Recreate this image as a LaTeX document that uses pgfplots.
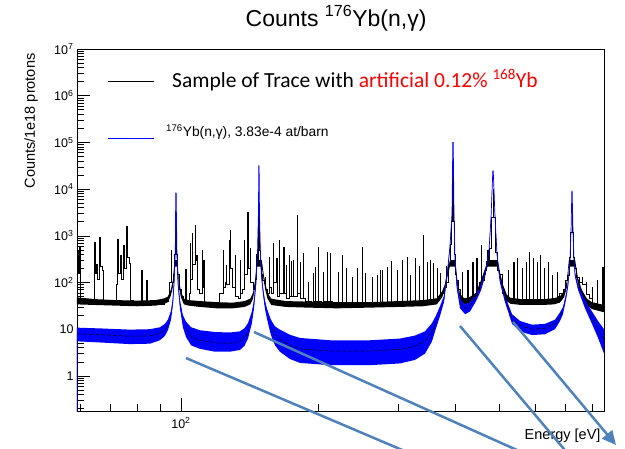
\documentclass[border=0pt]{standalone}
\usepackage{fontspec}
\setmainfont{Liberation Sans}
\newfontfamily\calibri{Carlito}
\usepackage{pgfplots}
\pgfplotsset{compat=1.18}
\usepackage{pgfplotstable}
\usepgfplotslibrary{fillbetween}
\usetikzlibrary{arrows.meta}
\definecolor{annot}{RGB}{79,129,189}

% 176Yb(n,gamma): centre, upper, lower of band, flat-part centre
\pgfplotstableread{
E c u l d
59.1 0.05 0.05 0.05 nan
59.1 8.0 10.8 5.5 8.0
66.4 7.6 10.4 5.2 7.6
77.2 7.1 9.8 4.8 7.1
85.5 7.2 10.0 4.9 7.2
89.9 8.2 11.0 5.8 8.2
92.2 9.8 13.0 7.2 9.8
93.6 12.5 16.0 9.5 12.5
95.1 20 25 16 nan
96.0 40 47 34 nan
96.7 120 135 105 nan
97.2 600 650 550 nan
97.4 8300 8300 8300 nan
97.6 8300 8300 8300 nan
98.0 400 440 360 nan
98.5 100 115 88 nan
99.5 35 42 28 nan
101.0 15 20 11 nan
102.6 10 14.5 6.8 10
105.3 7.0 11.0 4.5 7.0
110.1 5.8 9.5 3.8 5.8
118.8 5.1 8.7 3.3 5.1
128.1 5.0 8.5 3.3 5.0
134.8 5.4 9.0 3.6 5.4
137.9 6.5 10.5 4.4 6.5
140.4 9 13.5 6.3 9
143.2 18 24 13.5 nan
144.7 35 42 28 nan
146.2 100 112 88 nan
147.3 400 430 370 nan
148.0 3000 3000 3000 nan
148.3 31600 31600 31600 nan
148.5 31600 31600 31600 nan
148.8 3000 3000 3000 nan
149.5 400 430 370 nan
150.2 150 165 135 nan
151.4 70 80 60 nan
152.9 35 42 28 nan
154.5 22 28 17 nan
156.9 13 18 9 nan
158.5 10 14.5 6.5 10
161.0 7.5 11.5 4.5 7.5
165.0 6.0 9.8 3.3 6.0
173.6 4.5 7.6 2.3 4.5
182.6 3.8 6.5 1.9 3.8
212.5 3.4 5.8 1.7 3.4
260.3 3.4 5.8 1.7 3.4
302.9 3.7 6.3 1.85 3.7
326.8 4.3 7.3 2.2 4.3
343.8 5.6 9.0 3.0 5.6
356.2 9 13.5 5.5 9
363.0 14 19 10 14
370.9 25 31 19 nan
378.5 45 52 38 nan
382.4 100 110 90 nan
386.3 220 240 200 nan
390.2 600 640 560 nan
394.2 3000 3000 3000 nan
395.8 100000 100000 100000 nan
396.6 100000 100000 100000 nan
398.2 3000 3000 3000 nan
400.2 300 330 270 nan
404.3 80 90 70 nan
410.5 37 44 28 37
421.1 28 34 21 28
431.8 32 38 24 32
445.2 50 58 40 50
456.5 80 90 68 80
465.9 150 165 135 nan
470.6 250 270 230 nan
475.4 500 530 470 nan
480.2 2500 2500 2500 nan
484.6 24500 24500 24500 nan
485.6 24500 24500 24500 nan
490.0 2500 2500 2500 nan
495.0 400 430 370 nan
497.5 250 270 230 nan
502.6 110 122 98 nan
515.3 45 52 38 45
534.1 17 21 13 17
556.2 12 15 9 12
590.8 10 12.5 7.5 10
631.0 10.5 13 7.8 10.5
663.7 13 16 10 13
680.8 19 23 15 19
691.2 26 30 21 26
701.8 50 56 44 nan
708.8 90 98 82 nan
716.1 300 320 280 nan
719.8 1200 1200 1200 nan
722.9 9100 9100 9100 nan
723.9 9100 9100 9100 nan
727.1 1200 1200 1200 nan
730.8 300 320 280 nan
734.5 150 165 135 nan
745.7 80 88 70 nan
772.6 35 42 28 35
800.4 18 24 13 18
825.2 10 15 6.5 10
850.6 6 10 3 6
}\bluetab

% sample of trace: baseline band
\pgfplotstableread{
E u l
59.1 48 34
65 44 33
72 42 32
80 41 31
88 42 32
92 46 35
93.6 50 38
95 70 52
96 110 80
96.8 300 220
98.2 300 220
99 110 80
100 65 48
101.5 45 34
104 42 32
110 40 30
120 38 28
130 37 28
138 40 30
142 45 34
144 60 45
145.5 110 80
146.8 300 220
150.5 300 220
152 150 110
153.5 90 65
155 60 45
158 45 33
170 40 30
190 39 29
220 38 28
260 38 29
300 40 30
340 42 31
365 46 34
375 65 48
380 90 68
385 180 130
390 300 220
401 300 220
404 130 95
410 60 45
415 50 37
420 46 34
430 48 36
445 60 45
456 110 80
466 200 150
472 300 220
497 300 220
502 170 125
510 90 65
520 55 40
530 47 35
560 44 33
620 44 33
660 46 34
680 50 37
695 65 48
705 110 80
712 300 220
735 300 220
745 130 95
760 70 50
780 45 33
800 38 27
850.6 33 23
}\blackband

% sample of trace: histogram
\pgfplotstableread{
E v
59.1 45
59.2 500
59.45 160
59.8 600
60.1 45
61.0 38
62.0 42
63.0 36
63.7 40
64.4 70
64.65 740
64.95 160
65.3 240
65.6 120
66.2 940
66.5 220
67.3 185
67.6 40
69.0 36
70.5 38
71.6 36
72.2 90
72.6 850
72.9 160
73.6 390
73.9 120
74.8 630
75.1 200
75.9 1600
76.3 350
77.0 260
77.35 42
78.4 36
80.0 35
81.8 185
82.15 38
83.9 110
84.25 36
86.0 34
88.0 37
90.0 35
92.0 40
93.6 48
94.5 100
95.0 500
95.4 100
96.3 150
96.9 400
97.3 2000
97.8 400
98.3 150
99.3 70
100.2 50
101.3 40
102.4 190
102.8 42
104.2 60
104.7 700
105.1 120
105.7 1150
106.1 250
107.3 1700
107.7 300
108.0 390
108.5 70
110.0 60
111.2 500
111.6 80
112.1 300
112.5 38
114.0 32
117.0 30
120.6 31
121.5 60
123.7 500
124.2 80
125.0 100
125.6 235
126.1 90
127.5 800
128.1 1330
128.6 200
129.5 80
131.4 390
131.9 50
133.5 45
134.8 300
135.3 60
136.5 70
137.5 800
138.0 150
139.7 3200
140.3 200
141.8 550
142.4 100
144.0 70
145.5 120
146.2 400
146.8 300
147.6 1000
148.2 3000
148.7 500
149.4 250
150.2 150
151.3 110
152.9 131
153.5 70
154.5 60
156.0 350
156.6 80
158.0 60
159.3 700
159.9 100
162.4 335
163.0 50
164.2 813
164.8 60
167.6 575
168.3 60
170.0 235
170.7 45
172.6 390
173.2 50
174.5 288
175.2 50
176.2 300
176.9 50
179.8 2790
180.5 60
182.5 275
183.2 45
185.3 430
186.0 45
188.0 40
190.1 100
190.8 40
193.0 38
195.0 160
195.8 40
197.0 215
197.8 40
200.0 575
200.8 40
203.0 38
205.0 168
205.8 40
209.4 450
210.2 40
212.5 429
213.3 40
215.5 38
218.0 35
221.2 168
222.1 36
225.9 388
226.8 38
230.4 200
231.3 36
235.0 33
237.6 131
238.5 33
243.6 204
244.6 33
249.9 575
250.9 34
253.8 160
254.8 33
262.9 131
263.9 33
269.5 145
270.5 33
273.8 185
274.9 33
276.4 185
277.5 34
283.6 215
284.7 35
289.4 288
290.5 35
298.3 185
299.5 35
306.0 303
307.2 36
313.8 352
315.0 36
318.7 145
319.9 36
326.7 335
328.0 37
333.4 226
334.7 38
340.3 1040
341.6 40
347.2 275
348.6 40
352.6 303
354.0 40
358.0 262
359.4 42
365.2 204
366.6 50
370.9 160
372.4 55
376.0 60
380.0 80
382.3 226
383.8 100
386.0 250
390.0 650
393.0 2000
395.5 20000
397.0 2000
399.0 400
401.0 150
403.0 110
406.0 70
410.4 48
414.6 168
416.2 45
421.0 42
425.3 185
427.0 45
431.7 48
436.2 275
437.9 50
443.0 60
445.1 335
446.9 70
452.0 100
456.4 635
458.2 110
463.0 150
466.0 180
470.0 280
472.0 500
473.9 300
475.0 550
480.0 2500
484.8 10000
486.0 2500
490.0 450
495.0 180
500.0 150
507.6 113
509.6 60
515.0 45
523.2 185
525.3 45
530.0 40
536.7 275
538.9 40
547.6 335
549.8 40
555.0 38
561.6 204
563.8 38
573.0 275
575.3 38
581.8 450
584.1 38
593.7 335
596.1 38
605.8 275
608.2 38
615.1 388
617.6 40
627.7 204
630.2 40
640.5 275
643.1 42
653.7 145
656.3 45
670.4 168
673.1 50
680.0 60
691.0 70
700.0 110
708.0 140
713.0 350
718.0 1200
722.8 5000
724.5 1200
728.0 350
733.0 200
740.0 130
750.0 100
761.0 131
764.0 90
776.4 103
779.5 55
790.0 45
800.3 80
803.5 35
820.9 113
824.2 30
835.0 28
842.0 215
845.4 28
850.6 28
}\blacktab

\begin{document}
\begin{tikzpicture}
\begin{axis}[
  scale only axis, width=527pt, height=362pt,
  xmode=log, ymode=log,
  xmin=59.1, xmax=850.6, ymin=0.177, ymax=1e7,
  axis line style={line width=0.7pt},
  tick align=inside, tick pos=left,
  major tick length=13pt, minor tick length=7pt,
  every tick/.style={black, line width=0.6pt},
  xtick={100}, xticklabels={10\textsuperscript{2}},
  minor xtick={60,70,80,90,200,300,400,500,600,700,800},
  ytick={1,10,100,1000,10000,100000,1000000,10000000},
  yticklabels={1,10,10\textsuperscript{2},10\textsuperscript{3},10\textsuperscript{4},10\textsuperscript{5},10\textsuperscript{6},10\textsuperscript{7}},
  minor ytick={0.2,0.3,0.4,0.5,0.6,0.7,0.8,0.9,2,3,4,5,6,7,8,9,20,30,40,50,60,70,80,90,200,300,400,500,600,700,800,900,2000,3000,4000,5000,6000,7000,8000,9000,2e4,3e4,4e4,5e4,6e4,7e4,8e4,9e4,2e5,3e5,4e5,5e5,6e5,7e5,8e5,9e5,2e6,3e6,4e6,5e6,6e6,7e6,8e6,9e6},
  ticklabel style={font=\fontsize{12.5}{14}\selectfont},
  xticklabel style={yshift=-3pt},
  xlabel={Energy [eV]}, ylabel={Counts/1e18 protons},
  label style={font=\fontsize{14.5}{16}\selectfont},
  xlabel style={at={(rel axis cs:1,-0.080)}, anchor=base east},
  ylabel style={at={(rel axis cs:-0.0797,0.997)}, anchor=base east},
  title={Counts \textsuperscript{176}Yb(n,γ)},
  title style={at={(rel axis cs:0.4915,1.047)}, anchor=base, font=\fontsize{23}{26}\selectfont},
]
\addplot[draw=none, name path=KU, forget plot] table[x=E,y=u]{\blackband};
\addplot[draw=none, name path=KL, forget plot] table[x=E,y=l]{\blackband};
\addplot[black, forget plot] fill between[of=KU and KL];
\addplot[black, line width=0.6pt, const plot mark left, forget plot] table[x=E,y=v]{\blacktab};

\addplot[draw=none, name path=BU, forget plot] table[x=E,y=u]{\bluetab};
\addplot[draw=none, name path=BL, forget plot] table[x=E,y=l]{\bluetab};
\addplot[blue, forget plot] fill between[of=BU and BL];
\addplot[blue, line width=0.7pt, forget plot] table[x=E,y=c]{\bluetab};
\addplot[black, line width=0.5pt, dash pattern=on 4pt off 2pt, unbounded coords=jump, forget plot] table[x=E,y=d]{\bluetab};

\coordinate (l1) at (rel axis cs:0.0594,0.9116);
\coordinate (l2) at (rel axis cs:0.0594,0.7522);
\coordinate (t1) at (rel axis cs:0.1803,0.8950);
\coordinate (t2) at (rel axis cs:0.1689,0.7577);
\coordinate (a1s) at (rel axis cs:0.2068,0.1464);
\coordinate (a1e) at (rel axis cs:0.6395,-0.1215);
\coordinate (a2s) at (rel axis cs:0.3359,0.2182);
\coordinate (a2e) at (rel axis cs:0.8558,-0.1215);
\coordinate (a3s) at (rel axis cs:0.7268,0.2348);
\coordinate (a3e) at (rel axis cs:0.9336,-0.1215);
\coordinate (a4s) at (rel axis cs:0.8273,0.2459);
\coordinate (a4e) at (rel axis cs:1.0228,-0.0939);
\coordinate (bbl) at (rel axis cs:-0.1461,-0.1022);
\coordinate (bbr) at (rel axis cs:1.0398,1.1354);
\end{axis}
% legend
\draw[black, line width=0.8pt] (l1) -- ++(46pt,0pt);
\node[anchor=base west, inner sep=0pt, font=\calibri\fontsize{21.5}{24}\selectfont] at (t1)
  {Sample of Trace with \textcolor{red}{artificial 0.12\% \textsuperscript{168}Yb}};
\draw[blue, line width=0.8pt] (l2) -- ++(46pt,0pt);
\node[anchor=base west, inner sep=0pt, font=\fontsize{13.8}{15}\selectfont] at (t2)
  {\textsuperscript{176}Yb(n,γ), 3.83e-4 at/barn};
% annotation arrows
\draw[annot, line width=2.5pt] (a1s) -- (a1e);
\draw[annot, line width=2.5pt] (a2s) -- (a2e);
\draw[annot, line width=2.5pt] (a3s) -- (a3e);
\draw[annot, line width=2.5pt, -{Triangle[length=14pt,width=13pt]}] (a4s) -- (a4e);
\pgfresetboundingbox
\useasboundingbox (bbl) rectangle (bbr);
\end{tikzpicture}
\end{document}
